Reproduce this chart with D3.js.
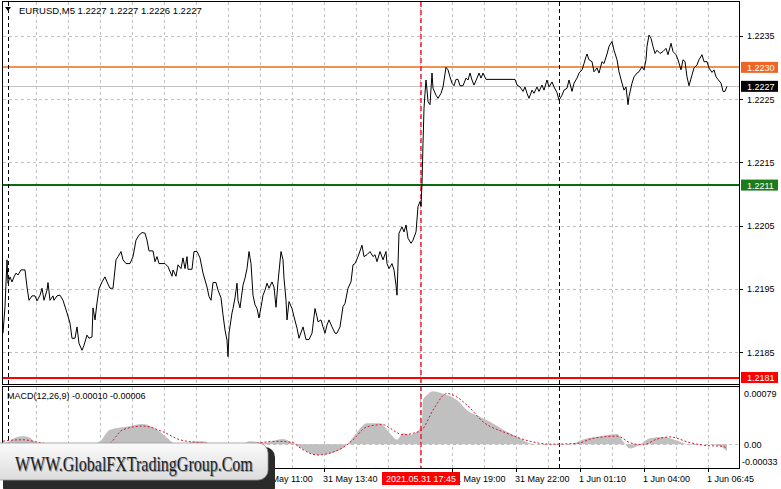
<!DOCTYPE html>
<html><head><meta charset="utf-8">
<script src="https://cdn.jsdelivr.net/npm/d3@7"></script>
<style>
body{margin:0;background:#fff;overflow:hidden;}
svg{display:block;font-family:Tahoma,"Liberation Sans",Arial,sans-serif;}
</style>
</head><body>
<svg id="c" width="781" height="489"></svg>
<script>
// ---------------- DATA ----------------
const headerSymbol = "EURUSD,M5";
const headerOHLC = ["1.2227", "1.2227", "1.2226", "1.2227"];
const macdTitle = "MACD(12,26,9) -0.00010 -0.00006";

// bar slot positions and close prices
const barIdx = [0,2,4,5,7,9,11,13,15,18,22,24,26,29,32,34,37,39,41,44,45,47,50,51,54,57,60,64,67,69,72,74,76,79,81,84,86,89,90,92,94,96,99,102,104,107,110,113,115,118,120,123,127,130,133,136,139,142,144,146,150,152,154,156,162,165,169,170,173,175,178,180,182,184,185,189,191,194,197,200,204,206,208,210,213,215,218,220,222,224,225,226,229,230,232,234,235,237,240,242,244,246,248,250,252,254,256,259,260,262,264,266,269,271,273,275,278,280,281,283,284,286,289,291,294,296,300,303,306,309,312,314,315,318,320,322,324,326,329,332,334,337,340,342,345,348,350,352,355,359,361,364,367,370,372,374,377,380,383,384,386,389,391,393,394,396,399,401,403,405,408,410,413,415,417,418,419,420,421,422,423,424,425,427,429,430,433,435,438,440,443,445,447,449,451,453,455,457,460,463,465,467,469,471,474,476,478,480,483,512,514,517,520,522,524,526,529,531,534,536,539,541,544,546,549,551,554,556,559,561,564,566,569,571,574,576,579,581,583,584,586,589,591,594,596,599,601,604,606,609,611,614,616,619,621,623,625,626,629,631,634,636,639,641,643,644,646,648,650,652,654,657,660,663,665,668,670,673,675,678,680,682,684,686,689,691,694,696,699,701,704,706,709,711,713,715,718,720,722,724];
const closes = [1.21880,1.21922,1.21996,1.21959,1.21969,1.21961,1.21969,1.21975,1.21972,1.21980,1.21980,1.21953,1.21932,1.21939,1.21939,1.21931,1.21940,1.21951,1.21932,1.21948,1.21960,1.21932,1.21939,1.21932,1.21939,1.21940,1.21932,1.21912,1.21896,1.21872,1.21872,1.21890,1.21864,1.21853,1.21861,1.21877,1.21872,1.21874,1.21920,1.21901,1.21928,1.21950,1.21961,1.21969,1.21961,1.21951,1.21951,1.21996,1.22001,1.22009,1.21996,1.21990,1.21990,1.22001,1.22027,1.22035,1.22039,1.22038,1.22027,1.22010,1.22010,1.21993,1.22001,1.21990,1.21990,1.21985,1.21970,1.21980,1.21970,1.21988,1.21982,1.21999,1.21982,1.22001,1.21981,1.21981,1.22009,1.22009,1.21999,1.21975,1.21953,1.21938,1.21932,1.21960,1.21960,1.21948,1.21936,1.21909,1.21885,1.21869,1.21843,1.21880,1.21912,1.21919,1.21936,1.21959,1.21932,1.21920,1.21956,1.21967,1.21982,1.22009,1.21990,1.21940,1.21925,1.21919,1.21904,1.21930,1.21940,1.21948,1.21959,1.21951,1.21961,1.21953,1.21921,1.21961,1.22009,1.21996,1.21967,1.21932,1.21901,1.21930,1.21919,1.21906,1.21888,1.21872,1.21890,1.21870,1.21870,1.21880,1.21919,1.21906,1.21898,1.21901,1.21890,1.21880,1.21893,1.21901,1.21890,1.21880,1.21880,1.21890,1.21922,1.21927,1.21951,1.21961,1.21988,1.21990,1.22001,1.22019,1.22001,1.22004,1.22009,1.22001,1.22004,1.21993,1.22009,1.21996,1.22009,1.21990,1.21982,1.21990,1.21980,1.21956,1.21940,1.22038,1.22048,1.22040,1.22051,1.22030,1.22022,1.22027,1.22040,1.22080,1.22088,1.22081,1.22117,1.22180,1.22235,1.22259,1.22280,1.22264,1.22246,1.22241,1.22291,1.22267,1.22256,1.22251,1.22259,1.22269,1.22300,1.22296,1.22285,1.22275,1.22271,1.22281,1.22281,1.22271,1.22271,1.22283,1.22280,1.22291,1.22280,1.22272,1.22283,1.22291,1.22283,1.22291,1.22281,1.22281,1.22272,1.22269,1.22262,1.22269,1.22259,1.22251,1.22264,1.22259,1.22269,1.22262,1.22272,1.22264,1.22280,1.22269,1.22277,1.22269,1.22260,1.22248,1.22256,1.22264,1.22267,1.22280,1.22262,1.22275,1.22283,1.22291,1.22296,1.22306,1.22317,1.22321,1.22312,1.22309,1.22293,1.22299,1.22291,1.22309,1.22306,1.22321,1.22333,1.22341,1.22327,1.22312,1.22293,1.22275,1.22264,1.22269,1.22241,1.22254,1.22275,1.22285,1.22291,1.22293,1.22301,1.22296,1.22312,1.22333,1.22351,1.22346,1.22333,1.22322,1.22327,1.22322,1.22325,1.22330,1.22320,1.22338,1.22325,1.22320,1.22312,1.22296,1.22312,1.22309,1.22285,1.22271,1.22288,1.22299,1.22304,1.22312,1.22320,1.22309,1.22309,1.22299,1.22292,1.22296,1.22285,1.22281,1.22275,1.22262,1.22262,1.22270];

const priceTicks = [1.2185, 1.2195, 1.2205, 1.2215, 1.2225, 1.2235];
const priceDomain = [1.2180134, 1.2240324];
const levelValues = [1.22300, 1.22114, 1.21810];
const levelLabels = ["1.2230", "1.2211", "1.2181"];
const bidValue = 1.22270;
const bidLabel = "1.2227";

const slotDomain = [0, 736];
const gridIdx = [33,65,97,129,161,193,225,257,289,321,353,385,417,449,481,513,545,577,609,641,673,705];
const timeTickIdx = [257,321,449,513,577,641,705];
const timeLabels = ["31 May 11:00","31 May 13:40","31 May 19:00","31 May 22:00","1 Jun 01:10","1 Jun 04:00","1 Jun 06:45"];
const separatorIdx = [5, 556];
const cursorIdx = 418;
const cursorLabel = "2021.05.31 17:45";

const macdIdx = [0,5,12,20,27,33,47,67,87,97,107,124,140,154,164,170,182,190,200,212,232,247,262,280,292,314,330,344,352,364,377,387,394,400,407,414,419,420,424,430,437,444,454,464,477,487,504,517,527,547,567,584,597,614,620,627,634,647,660,674,687,704,717,724];
const macdHist = [0.00002,0.00003,0.00009,0.00011,0.00009,0.00002,-0.00002,-0.00005,-0.00001,0.00004,0.00020,0.00024,0.00028,0.00020,0.00009,0.00002,-0.00002,0.00004,0.00004,-0.00002,-0.00004,0.00004,0.00002,0.00007,-0.00001,-0.00015,-0.00012,-0.00001,0.00013,0.00029,0.00029,0.00015,0.00006,0.00015,0.00013,0.00017,0.00029,0.00061,0.00068,0.00073,0.00071,0.00068,0.00061,0.00047,0.00038,0.00031,0.00017,0.00008,0.00001,-0.00001,0.00000,0.00008,0.00011,0.00014,0.00004,-0.00006,-0.00003,0.00008,0.00010,0.00005,-0.00001,0.00000,-0.00003,-0.00010];
const signalIdx = [0,5,20,37,67,104,120,140,160,177,197,237,274,290,297,314,330,344,350,364,380,387,400,410,419,430,444,450,464,480,504,527,547,574,590,614,627,640,654,667,687,704,720,724];
const signalVals = [0.00004,0.00005,0.00006,0.00002,-0.00002,-0.00001,0.00020,0.00025,0.00017,0.00006,0.00002,-0.00001,0.00004,0.00002,-0.00005,-0.00015,-0.00011,-0.00001,0.00006,0.00024,0.00027,0.00022,0.00013,0.00015,0.00020,0.00047,0.00070,0.00068,0.00054,0.00031,0.00015,0.00004,0.00000,0.00001,0.00008,0.00011,0.00002,-0.00001,0.00007,0.00010,0.00002,-0.00002,-0.00003,-0.00006];
const macdDomain = [-0.00033, 0.00079];
const macdTicks = [0.00079, 0.00, -0.00033];
const macdTickLabels = ["0.00079", "0.00", "-0.00033"];
const watermark = "WWW.GlobalFXTradingGroup.Com";

// ---------------- LAYOUT ----------------
const svg = d3.select("#c");
const L = 3, R = 739;
const mainTop = 2, mainBot = 384;
const macdTop = 387, macdBot = 468;

const x = d3.scaleLinear().domain(slotDomain).range([L, R]);
const y = d3.scaleLinear().domain(priceDomain).range([383, mainTop]);
const ym = d3.scaleLinear().domain(macdDomain).range([macdBot, macdTop]);
const px = v => Math.round(v) + 0.5;

svg.append("rect").attr("width", 781).attr("height", 489).attr("fill", "#fff");

const gridColor = "#c0c0c0";
const grid = svg.append("g").attr("stroke", gridColor).attr("stroke-dasharray", "3,3").attr("shape-rendering", "crispEdges");
grid.selectAll("line.vm").data(gridIdx).join("line").attr("class","vm")
  .attr("x1", d => px(x(d))).attr("x2", d => px(x(d)))
  .attr("y1", mainTop).attr("y2", mainBot);
grid.selectAll("line.vb").data(gridIdx).join("line").attr("class","vb")
  .attr("x1", d => px(x(d))).attr("x2", d => px(x(d)))
  .attr("y1", macdTop).attr("y2", macdBot);
grid.selectAll("line.h").data(priceTicks).join("line").attr("class","h")
  .attr("x1", L).attr("x2", R)
  .attr("y1", d => px(y(d))).attr("y2", d => px(y(d)));
grid.append("line").attr("x1", L).attr("x2", R)
  .attr("y1", px(ym(0))).attr("y2", px(ym(0)));

// bid line
svg.append("line").attr("x1", L).attr("x2", R)
  .attr("y1", px(y(bidValue))).attr("y2", px(y(bidValue)))
  .attr("stroke", "#c0c0c0").attr("shape-rendering", "crispEdges");

// level lines
const levelColors = ["#ec6c14", "#0b6a0b", "#ff0000"];
const levelWidths = [1.4, 2, 2];
const levelBoxColors = ["#f06424", "#1c7c1c", "#ff0000"];
svg.selectAll("line.lvl").data(levelValues).join("line").attr("class", "lvl")
  .attr("x1", L).attr("x2", R)
  .attr("y1", d => Math.round(y(d))).attr("y2", d => Math.round(y(d)))
  .attr("stroke", (d, i) => levelColors[i]).attr("stroke-width", (d, i) => levelWidths[i]);

// period separators
svg.selectAll("line.sep").data(separatorIdx).join("line").attr("class", "sep")
  .attr("x1", d => px(x(d))).attr("x2", d => px(x(d)))
  .attr("y1", mainTop).attr("y2", macdBot)
  .attr("stroke", "#000").attr("stroke-dasharray", "4,3").attr("shape-rendering", "crispEdges");

// MACD histogram (area) and signal
const histPts = macdIdx.map((d, i) => [d, macdHist[i]]);
svg.append("path").datum(histPts)
  .attr("d", d3.area().x(d => x(d[0])).y0(ym(0)).y1(d => ym(d[1])).curve(d3.curveMonotoneX))
  .attr("fill", "#c0c0c0");
const sigPts = signalIdx.map((d, i) => [d, signalVals[i]]);
svg.append("path").datum(sigPts)
  .attr("d", d3.line().x(d => x(d[0])).y(d => ym(d[1])).curve(d3.curveMonotoneX))
  .attr("fill", "none").attr("stroke", "#e0102a").attr("stroke-width", 1).attr("stroke-dasharray", "2,2");

// cursor line (red dashed)
svg.append("line")
  .attr("x1", Math.round(x(cursorIdx))).attr("x2", Math.round(x(cursorIdx)))
  .attr("y1", mainTop).attr("y2", macdBot)
  .attr("stroke", "#f01030").attr("stroke-width", 1.4).attr("stroke-dasharray", "5,3");

// price line
const pts = barIdx.map((d, i) => [d, closes[i]]);
svg.append("path").datum(pts)
  .attr("d", d3.line().x(d => x(d[0])).y(d => y(d[1])))
  .attr("fill", "none").attr("stroke", "#000").attr("stroke-width", 1);

// frames
svg.append("rect").attr("x", 2.5).attr("y", 1.5).attr("width", R - 2.5).attr("height", mainBot - 1.5)
  .attr("fill", "none").attr("stroke", "#000").attr("shape-rendering", "crispEdges");
svg.append("rect").attr("x", 2.5).attr("y", macdTop - 0.5).attr("width", R - 2.5).attr("height", macdBot - macdTop + 0.5)
  .attr("fill", "none").attr("stroke", "#000").attr("shape-rendering", "crispEdges");

// right price axis
const ax = svg.append("g").attr("font-size", "9px").attr("fill", "#000");
ax.selectAll("line.t").data(priceTicks).join("line").attr("class","t")
  .attr("x1", R).attr("x2", R + 4)
  .attr("y1", d => px(y(d))).attr("y2", d => px(y(d)))
  .attr("stroke", "#000").attr("shape-rendering", "crispEdges");
ax.selectAll("text.t").data(priceTicks).join("text").attr("class","t")
  .attr("x", R + 8).attr("y", d => y(d) + 3.5)
  .text(d => d3.format(".4f")(d));

// level boxes
const boxes = svg.append("g").attr("font-size", "9px");
levelValues.forEach((v, i) => {
  boxes.append("rect").attr("x", R + 2).attr("y", y(v) - 5.5).attr("width", 37).attr("height", 11)
    .attr("fill", levelBoxColors[i]);
  boxes.append("text").attr("x", R + 8).attr("y", y(v) + 3.5).attr("fill", "#fff").text(levelLabels[i]);
});
boxes.append("rect").attr("x", R + 2).attr("y", y(bidValue) - 5.5).attr("width", 37).attr("height", 11).attr("fill", "#000");
boxes.append("text").attr("x", R + 8).attr("y", y(bidValue) + 3.5).attr("fill", "#fff").text(bidLabel);

// MACD axis
const mTickY = [Math.max(ym(macdTicks[0]), 393), ym(macdTicks[1]), Math.min(ym(macdTicks[2]), 461)];
const mTickX = [R + 5, R + 5, R + 3];
macdTicks.forEach((v, i) => {
  ax.append("text").attr("x", mTickX[i]).attr("y", mTickY[i] + 3.5).text(macdTickLabels[i]);
});

// right axis line
svg.append("line").attr("x1", R + 0.5).attr("x2", R + 0.5).attr("y1", 1).attr("y2", macdBot)
  .attr("stroke", "#000").attr("shape-rendering", "crispEdges");

// time axis
const tx = svg.append("g").attr("font-size", "9px");
tx.selectAll("line").data(timeTickIdx).join("line")
  .attr("x1", d => px(x(d))).attr("x2", d => px(x(d)))
  .attr("y1", macdBot).attr("y2", macdBot + 4)
  .attr("stroke", "#000").attr("shape-rendering", "crispEdges");
tx.selectAll("text").data(timeTickIdx).join("text")
  .attr("x", d => x(d) - 1).attr("y", 482)
  .text((d, i) => timeLabels[i]);
const cx = x(cursorIdx);
tx.append("rect").attr("x", cx - 39).attr("y", 472).attr("width", 78).attr("height", 13).attr("fill", "#ff0000");
tx.append("text").attr("x", cx).attr("y", 482).attr("text-anchor", "middle").attr("fill", "#fff").text(cursorLabel);

// header
svg.append("path").attr("d", "M5,7 L11,7 L8,11 Z").attr("fill", "#000");
svg.append("text").attr("x", 19).attr("y", 14).attr("font-size", "9.5px")
  .text(headerSymbol + "  " + headerOHLC.join(" "));
svg.append("text").attr("x", 7).attr("y", 399).attr("font-size", "9px").text(macdTitle);

// watermark
const defs = svg.append("defs");
const gr = defs.append("linearGradient").attr("id", "wm").attr("x1", 0).attr("y1", 0).attr("x2", 0).attr("y2", 1);
gr.append("stop").attr("offset", "0%").attr("stop-color", "#fbfbfb");
gr.append("stop").attr("offset", "100%").attr("stop-color", "#dcdcdc");
svg.append("rect").attr("x", 3).attr("y", 447).attr("width", 272).attr("height", 50).attr("rx", 10).attr("fill", "#2a2a2a");
svg.append("rect").attr("x", -10).attr("y", 443).attr("width", 278).attr("height", 37).attr("rx", 10).attr("fill", "url(#wm)")
  .attr("stroke", "#9a9a9a").attr("stroke-width", 0.8);
const wmFont = "'Liberation Serif','Times New Roman',serif";
svg.append("text").attr("transform", "translate(16,472) scale(1,1.3)").attr("font-family", wmFont)
  .attr("font-size", "16px").attr("fill", "#9a9a9a").text(watermark);
svg.append("text").attr("transform", "translate(15,471) scale(1,1.3)").attr("font-family", wmFont)
  .attr("font-size", "16px").attr("fill", "#1e1e1e").text(watermark);
</script>
</body></html>
